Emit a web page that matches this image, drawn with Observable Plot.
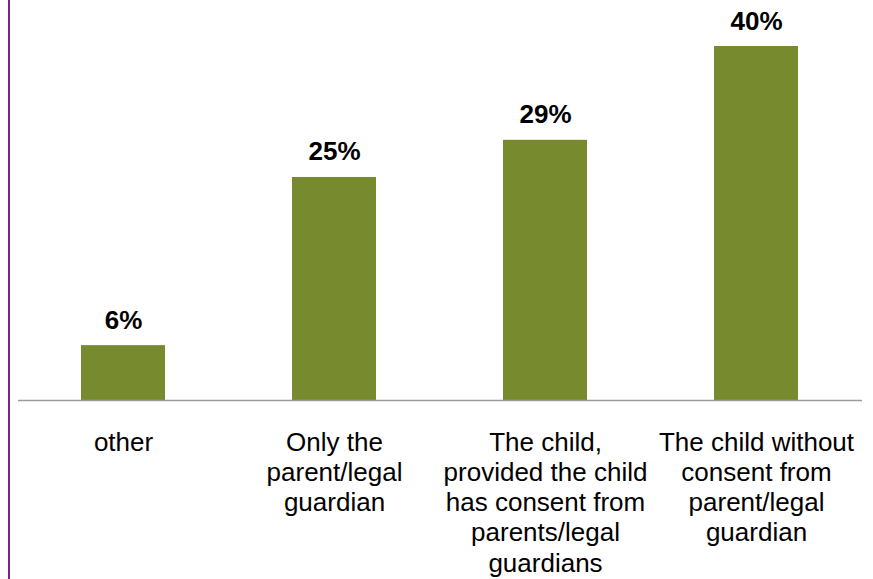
<!DOCTYPE html>
<html>
<head>
<meta charset="utf-8">
<script src="https://cdn.jsdelivr.net/npm/d3@7"></script>
<script src="https://cdn.jsdelivr.net/npm/@observablehq/plot@0.6"></script>
<style>
  html, body { margin: 0; padding: 0; background: #fff; }
  #wrap { position: relative; width: 873px; height: 579px; overflow: hidden; }
  #edge { position: absolute; left: 8px; top: 0; width: 2px; height: 579px; background: #7B2181; }
  #chart { position: absolute; left: 0; top: 0; }
</style>
</head>
<body>
<div id="wrap"><div id="edge"></div><div id="chart"></div></div>
<script>
const categories = ["other", "Only the parent/legal guardian", "The child, provided the child has consent from parents/legal guardians", "The child without consent from parent/legal guardian"];
const tickLabels = ["other", "Only the\nparent/legal\nguardian", "The child,\nprovided the child\nhas consent from\nparents/legal\nguardians", "The child without\nconsent from\nparent/legal\nguardian"];
const values = [6.2, 25.2, 29.4, 40];
const valueLabels = ["6%", "25%", "29%", "40%"];

const data = categories.map((c, i) => ({category: c, value: values[i], label: valueLabels[i], tick: tickLabels[i]}));
const tickMap = new Map(data.map(d => [d.category, d.tick]));

const chart = Plot.plot({
  width: 873,
  height: 579,
  marginTop: 46,
  marginBottom: 179,
  marginLeft: 18,
  marginRight: 11,
  style: {fontFamily: "Arial, 'Liberation Sans', sans-serif", background: "transparent"},
  x: {domain: categories, paddingInner: 0.6, paddingOuter: 0.3, label: null},
  y: {domain: [0, 40], axis: null},
  marks: [
    Plot.barY(data, {x: "category", y: "value", fill: "#778A2D"}),
    Plot.ruleY([0], {stroke: "#9A9A9A", strokeWidth: 1.5}),
    Plot.text(data, {x: "category", y: "value", text: "label", lineAnchor: "bottom", dy: -17, fontSize: 26, fontWeight: "bold", fill: "#000"}),
    Plot.axisX({tickSize: 0, tickPadding: 29, fontSize: 26, lineHeight: 1.16, fill: "#000", tickFormat: d => tickMap.get(d), label: null})
  ]
});
document.getElementById("chart").appendChild(chart);
</script>
</body>
</html>
